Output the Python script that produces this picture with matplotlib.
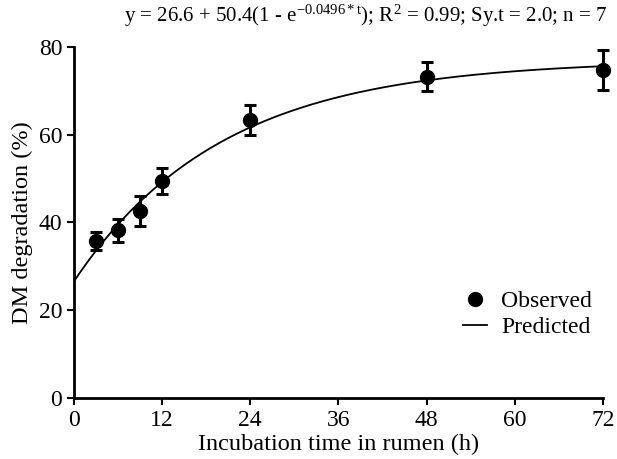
import numpy as np
import matplotlib
matplotlib.use("Agg")
import matplotlib.pyplot as plt
from matplotlib.lines import Line2D

# observed points
time_h = [3, 6, 9, 12, 24, 48, 72]
dm_deg = [35.8, 38.2, 42.6, 49.5, 63.3, 73.2, 74.7]
dm_err = [2.0, 2.6, 3.5, 3.0, 3.5, 3.3, 4.5]

# fitted model parameters, as printed above the plot
fit_a = 26.6
fit_b = 50.4
fit_c = 0.0496

x_ticks = [0, 12, 24, 36, 48, 60, 72]
y_ticks = [0, 20, 40, 60, 80]

plt.rcParams['font.family'] = ['Liberation Serif', 'DejaVu Serif']
plt.rcParams['mathtext.fontset'] = 'custom'
plt.rcParams['mathtext.rm'] = 'Liberation Serif'
plt.rcParams['mathtext.it'] = 'Liberation Serif'

fig = plt.figure(figsize=(6.17, 4.59), dpi=100)
ax = fig.add_axes([0.12, 0.133, 0.857, 0.765])

t = np.linspace(0, 72, 300)
pred = fit_a + fit_b * (1 - np.exp(-fit_c * t))
ax.plot(t, pred, color='black', lw=1.3, zorder=2)

eb = ax.errorbar(time_h, dm_deg, yerr=dm_err, fmt='o', color='black', ms=10,
                 capsize=4.5, capthick=2.2, elinewidth=2.2, zorder=3)
for art in eb.get_children():
    art.set_clip_on(False)

ax.set_xlim(0, 72)
ax.set_ylim(0, 80)
ax.set_xticks(x_ticks)
ax.set_yticks(y_ticks)
ax.spines['top'].set_visible(False)
ax.spines['right'].set_visible(False)
ax.spines['left'].set_linewidth(2)
ax.spines['bottom'].set_linewidth(2)
ax.tick_params(width=1.5, length=5, labelsize=17, direction='out')

ax.set_xlabel('Incubation time in rumen (h)', fontsize=17.5, labelpad=2)
ax.set_ylabel('DM degradation (%)', fontsize=17.5)

fig.text(0.985, 0.965,
         r'y = 26.6 + 50.4(1 - e$^{\mathrm{-0.0496*t}}$); R$^{2}$ = 0.99; Sy.t = 2.0; n = 7',
         ha='right', va='center', fontsize=15)

handles = [Line2D([], [], ls='none', marker='o', color='black', ms=10),
           Line2D([], [], color='black', lw=1.3)]
ax.legend(handles, ['Observed', 'Predicted'], loc='lower right',
          bbox_to_anchor=(1.02, 0.11), frameon=False, fontsize=17,
          handlelength=1.0, handletextpad=0.6, labelspacing=0.2)

fig.savefig('out.png', dpi=100)
